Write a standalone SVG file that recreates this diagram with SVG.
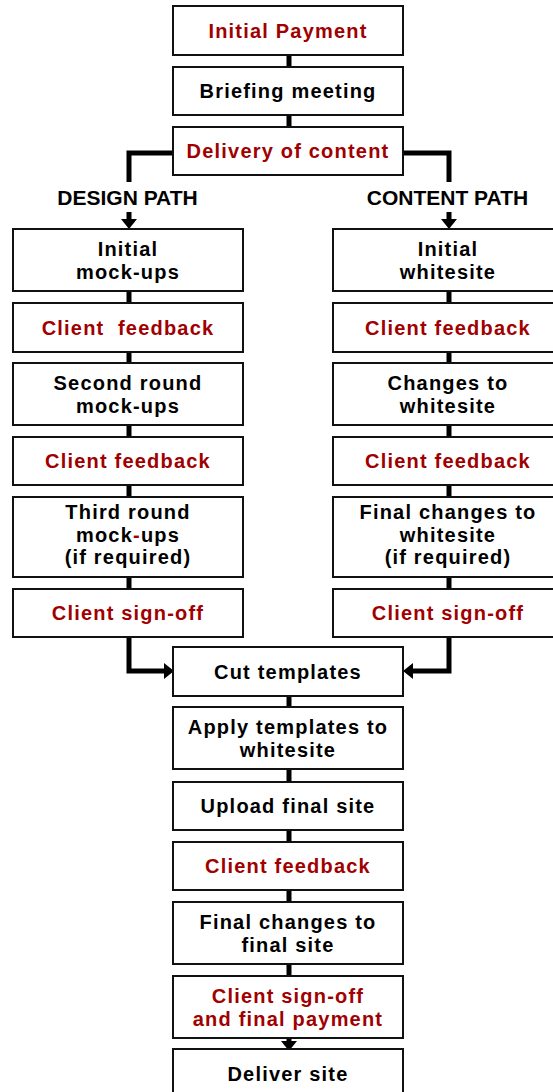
<svg xmlns="http://www.w3.org/2000/svg" width="553" height="1092" viewBox="0 0 553 1092">
<style>
.box{fill:#fff;stroke:#111;stroke-width:2}
.t{font-family:"Liberation Sans",Arial,sans-serif;font-weight:bold;font-size:20px;text-anchor:middle;letter-spacing:1.2px}
.k{fill:#000}
.r{fill:#a00000}
.h{font-family:"Liberation Sans",Arial,sans-serif;font-weight:bold;font-size:21px;text-anchor:middle;fill:#000}
.link{stroke:#000;stroke-width:5;fill:none}
.arr{marker-end:url(#ah)}
</style>
<defs>
<marker id="ah" markerUnits="userSpaceOnUse" viewBox="0 0 10 16" markerWidth="10" markerHeight="16" refX="0" refY="8" orient="auto">
<path d="M0,0 L10,8 L0,16 z" fill="#000"/>
</marker>
</defs>
<g id="connectors">
<path class="link" d="M289,55 V67"/>
<path class="link" d="M289,115 V127"/>
<path class="link" d="M173,153 H129 V182"/>
<path class="link" d="M403,153 H449 V182"/>
<path class="link arr" d="M129,212 V219"/>
<path class="link arr" d="M449,212 V219"/>
<path class="link" d="M129,291 V303"/>
<path class="link" d="M129,352 V363"/>
<path class="link" d="M129,425 V437"/>
<path class="link" d="M129,485 V497"/>
<path class="link" d="M129,577 V589"/>
<path class="link" d="M449,291 V303"/>
<path class="link" d="M449,352 V363"/>
<path class="link" d="M449,425 V437"/>
<path class="link" d="M449,485 V497"/>
<path class="link" d="M449,577 V589"/>
<path class="link arr" d="M129,637 V671 H164"/>
<path class="link arr" d="M449,637 V671 H413"/>
<path class="link" d="M289,696 V707"/>
<path class="link" d="M289,769 V782"/>
<path class="link" d="M289,830 V842"/>
<path class="link" d="M289,890 V902"/>
<path class="link" d="M289,964 V976"/>
<path class="link arr" d="M289,1038 V1041"/>
</g>
<g id="label-design"><text class="h" x="127.5" y="205">DESIGN PATH</text></g>
<g id="label-content"><text class="h" x="447.5" y="205">CONTENT PATH</text></g>
<g id="n-initial-payment"><rect class="box" x="173" y="6" width="230" height="49"/><text class="t r" x="288" y="37.5">Initial Payment</text></g>
<g id="n-briefing"><rect class="box" x="173" y="67" width="230" height="48"/><text class="t k" x="288" y="98">Briefing meeting</text></g>
<g id="n-delivery"><rect class="box" x="173" y="127" width="230" height="48"/><text class="t r" x="288" y="158">Delivery of content</text></g>

<g id="n-d1"><rect class="box" x="13" y="229" width="230" height="62"/><text class="t k" x="128" y="256">Initial</text><text class="t k" x="128" y="278.5">mock-ups</text></g>
<g id="n-d2"><rect class="box" x="13" y="303" width="230" height="49"/><text class="t r" x="128" y="334.5" style="white-space:pre">Client  feedback</text></g>
<g id="n-d3"><rect class="box" x="13" y="363" width="230" height="62"/><text class="t k" x="128" y="390">Second round</text><text class="t k" x="128" y="412.5">mock-ups</text></g>
<g id="n-d4"><rect class="box" x="13" y="437" width="230" height="48"/><text class="t r" x="128" y="468">Client feedback</text></g>
<g id="n-d5"><rect class="box" x="13" y="497" width="230" height="80"/><text class="t k" x="128" y="519">Third round</text><text class="t k" x="128" y="541.5">mock<tspan class="r">-</tspan>ups</text><text class="t k" x="128" y="564">(if required)</text></g>
<g id="n-d6"><rect class="box" x="13" y="589" width="230" height="48"/><text class="t r" x="128" y="620">Client sign-off</text></g>

<g id="n-c1"><rect class="box" x="333" y="229" width="230" height="62"/><text class="t k" x="448" y="256">Initial</text><text class="t k" x="448" y="278.5">whitesite</text></g>
<g id="n-c2"><rect class="box" x="333" y="303" width="230" height="49"/><text class="t r" x="448" y="334.5">Client feedback</text></g>
<g id="n-c3"><rect class="box" x="333" y="363" width="230" height="62"/><text class="t k" x="448" y="390">Changes to</text><text class="t k" x="448" y="412.5">whitesite</text></g>
<g id="n-c4"><rect class="box" x="333" y="437" width="230" height="48"/><text class="t r" x="448" y="468">Client feedback</text></g>
<g id="n-c5"><rect class="box" x="333" y="497" width="230" height="80"/><text class="t k" x="448" y="519">Final changes to</text><text class="t k" x="448" y="541.5">whitesite</text><text class="t k" x="448" y="564">(if required)</text></g>
<g id="n-c6"><rect class="box" x="333" y="589" width="230" height="48"/><text class="t r" x="448" y="620">Client sign-off</text></g>

<g id="n-cut"><rect class="box" x="173" y="647" width="230" height="49"/><text class="t k" x="288" y="678.5">Cut templates</text></g>
<g id="n-apply"><rect class="box" x="173" y="707" width="230" height="62"/><text class="t k" x="288" y="734">Apply templates to</text><text class="t k" x="288" y="756.5">whitesite</text></g>
<g id="n-upload"><rect class="box" x="173" y="782" width="230" height="48"/><text class="t k" x="288" y="813">Upload final site</text></g>
<g id="n-feedback"><rect class="box" x="173" y="842" width="230" height="48"/><text class="t r" x="288" y="873">Client feedback</text></g>
<g id="n-final-changes"><rect class="box" x="173" y="902" width="230" height="62"/><text class="t k" x="288" y="929">Final changes to</text><text class="t k" x="288" y="951.5">final site</text></g>
<g id="n-signoff"><rect class="box" x="173" y="976" width="230" height="62"/><text class="t r" x="288" y="1003">Client sign-off</text><text class="t r" x="288" y="1025.5">and final payment</text></g>
<g id="n-deliver"><rect class="box" x="173" y="1049" width="230" height="49"/><text class="t k" x="288" y="1080.5">Deliver site</text></g>
</svg>
